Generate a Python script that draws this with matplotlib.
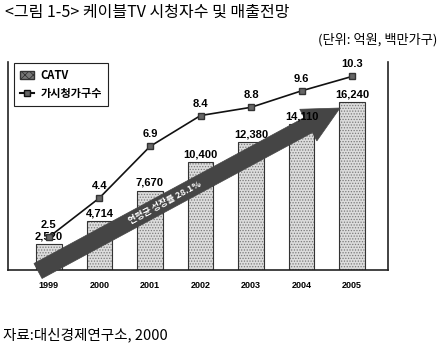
import matplotlib
matplotlib.use("Agg")
import matplotlib.pyplot as plt
from matplotlib.patches import Patch, FancyArrow
from matplotlib.lines import Line2D

years = ["1999", "2000", "2001", "2002", "2003", "2004", "2005"]
catv_sales = [2520, 4714, 7670, 10400, 12380, 14110, 16240]
households = [2.5, 4.4, 6.9, 8.4, 8.8, 9.6, 10.3]

title = "<그림 1-5> 케이블TV 시청자수 및 매출전망"
unit = "(단위: 억원, 백만가구)"
source = "자료:대신경제연구소, 2000"
arrow_text = "연평균 성장률 28.1%"
legend_bar = "CATV"
legend_line = "가시청가구수"

plt.rcParams['font.family'] = ['Noto Sans CJK KR', 'DejaVu Sans']
plt.rcParams['hatch.linewidth'] = 0.6

fig = plt.figure(figsize=(4.43, 3.47), dpi=100)
fig.patch.set_facecolor("white")
ax = fig.add_axes([8/443, 77/347, 380/443, 208/347])

x = list(range(len(years)))
ax.bar(x, catv_sales, width=0.5, color="#dcdcdc", hatch="......",
       edgecolor="#7a7a7a", linewidth=0, zorder=2)
ax.bar(x, catv_sales, width=0.5, fill=False, edgecolor="#333333",
       linewidth=0.8, zorder=2.1)
for xi, v in zip(x, catv_sales):
    ax.annotate(f"{v:,}", (xi, v), xytext=(0, 2), textcoords="offset points",
                ha="center", va="bottom", fontsize=8, fontweight="bold",
                family=["Liberation Sans", "DejaVu Sans"], zorder=6)

ax.set_xlim(-0.81, 6.71)
ax.set_ylim(0, 20100)
ax.set_xticks(x)
ax.set_xticklabels(years, fontsize=6.5, fontweight="bold",
                   family=["Liberation Sans Narrow", "Liberation Sans", "DejaVu Sans"])
ax.tick_params(axis="x", length=0, pad=8)
ax.set_yticks([])
ax.spines["top"].set_visible(False)
for s in ["left", "right", "bottom"]:
    ax.spines[s].set_linewidth(1.2)
    ax.spines[s].set_color("#222222")

# growth arrow (decoration), drawn under the value labels
arr = FancyArrow(0.38, 0.76, 3.02, 1.63, width=0.17, head_width=0.36,
                 head_length=0.36, length_includes_head=True,
                 transform=fig.dpi_scale_trans, color="#454545",
                 edgecolor="#2a2a2a", linewidth=0.5, zorder=4, clip_on=False)
ax.add_patch(arr)
ax.text(1.65, 1.44, arrow_text, transform=fig.dpi_scale_trans, rotation=28.3,
        rotation_mode="anchor", ha="center", va="center", fontsize=6.5,
        fontweight="bold", color="white", zorder=5, clip_on=False)

ax2 = ax.twinx()
ax2.set_ylim(0.9, 11.0)
ax2.set_yticks([])
for s in ax2.spines.values():
    s.set_visible(False)
ax2.plot(x, households, color="#111111", linewidth=1.2, marker="s",
         markersize=4, markerfacecolor="#666666", markeredgecolor="#333333",
         zorder=5)
for xi, v in zip(x, households):
    ax2.annotate(f"{v}", (xi, v), xytext=(0, 5), textcoords="offset points",
                 ha="center", va="bottom", fontsize=8, fontweight="bold",
                 family=["Liberation Sans", "DejaVu Sans"], zorder=6)

handles = [Patch(facecolor="#777777", hatch="xxxx", edgecolor="#333333"),
           Line2D([0], [0], color="#111111", marker="s", markersize=5,
                  markerfacecolor="#666666", linewidth=1.5)]
leg = ax2.legend(handles, [legend_bar, legend_line], loc="upper left",
                 bbox_to_anchor=(0.016, 0.995), borderaxespad=0,
                 fancybox=False, edgecolor="#222222", framealpha=1,
                 prop={"weight": "bold", "size": 8,
                       "family": ["Noto Sans CJK KR", "DejaVu Sans"]},
                 handlelength=1.2, handletextpad=0.6, labelspacing=0.45,
                 borderpad=0.55)
leg.get_frame().set_linewidth(0.8)
leg.set_zorder(10)

fig.text(5/443, 1 - 12/347, title, ha="left", va="center", fontsize=11.5)
fig.text(437/443, 1 - 40/347, unit, ha="right", va="center", fontsize=9.5)
fig.text(3/443, 1 - 335/347, source, ha="left", va="center", fontsize=10.5)

fig.savefig("out.png", dpi=100)
